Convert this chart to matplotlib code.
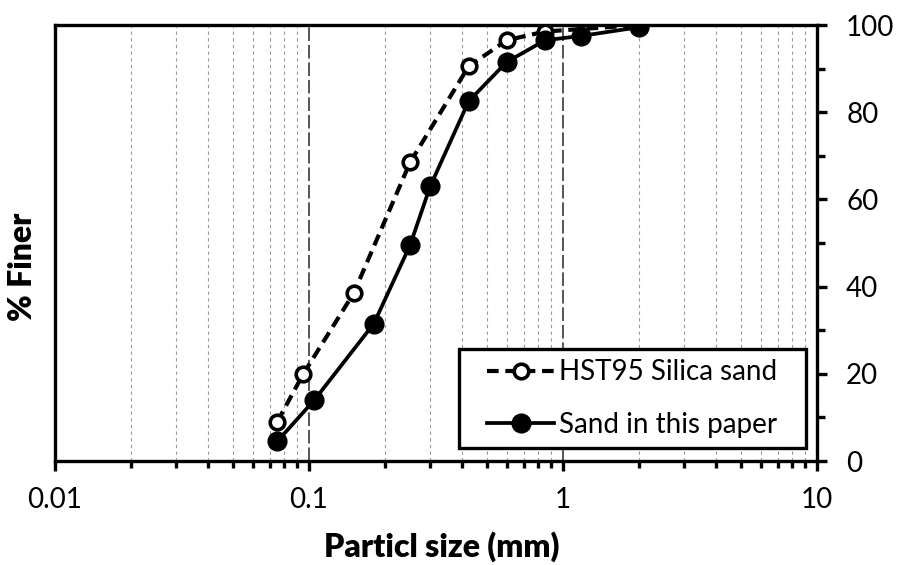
import numpy as np
import matplotlib
matplotlib.use('Agg')
import matplotlib.pyplot as plt
from matplotlib.patches import Rectangle
from matplotlib.ticker import LogLocator, FixedLocator, NullFormatter, FuncFormatter


# data
hst_size = [0.075, 0.095, 0.15, 0.25, 0.425, 0.6, 0.85, 2.0]
hst_finer = [9, 20, 38.5, 68.5, 90.5, 96.5, 98.5, 100]

sand_size = [0.075, 0.105, 0.18, 0.25, 0.3, 0.425, 0.6, 0.85, 1.18, 2.0]
sand_finer = [4.5, 14, 31.5, 49.5, 63, 82.5, 91.5, 96.5, 97.5, 99.5]

x_ticks = [0.01, 0.1, 1, 10]
x_tick_labels = ['0.01', '0.1', '1', '10']
y_ticks = [0, 20, 40, 60, 80, 100]

plt.rcParams['font.family'] = ['Lato', 'DejaVu Sans']

# figure
fig = plt.figure(figsize=(8.98, 5.65), dpi=100)
ax = fig.add_axes([55 / 898, 1 - 461 / 565, 762 / 898, 436 / 565])

ax.set_xscale('log')
ax.set_xlim(0.01, 10)
ax.set_ylim(0, 100)

# vertical grid: dotted minors, dashed majors
for dec in [0.01, 0.1, 1]:
    for m in range(2, 10):
        ax.axvline(dec * m, color='#9a9a9a', lw=0.8, ls=(0, (3, 3)), zorder=0)
for xm in [0.1, 1]:
    ax.axvline(xm, color='#555555', lw=1.4, ls=(0, (7, 2)), zorder=0)

# series
ax.plot(hst_size, hst_finer, color='black', lw=3, dashes=(2.8, 1.6),
        marker='o', ms=10.5, mew=2.6, mfc='white', mec='black',
        label='HST95 Silica sand', zorder=3)
ax.plot(sand_size, sand_finer, color='black', lw=2.7,
        marker='o', ms=13.5, mew=1, mfc='black', mec='black',
        label='Sand in this paper', zorder=4)

# spines & ticks
for s in ax.spines.values():
    s.set_linewidth(2.4)

ax.xaxis.set_major_locator(FixedLocator(x_ticks))
ax.xaxis.set_major_formatter(FuncFormatter(lambda v, p: x_tick_labels[x_ticks.index(v)] if v in x_ticks else ''))
ax.xaxis.set_minor_locator(LogLocator(base=10, subs=np.arange(2, 10)))
ax.xaxis.set_minor_formatter(NullFormatter())

ax.yaxis.tick_right()
ax.yaxis.set_label_position('left')
ax.set_yticks(y_ticks)
ax.yaxis.set_minor_locator(FixedLocator(range(10, 100, 20)))

ax.tick_params(axis='x', which='major', direction='out', length=7, width=2.4,
               labelsize=20, pad=12)
ax.tick_params(axis='x', which='minor', direction='out', length=5, width=2.4)
ax.tick_params(axis='y', which='major', direction='out', length=7, width=2.4,
               labelsize=20, pad=14, right=True, left=False)
ax.tick_params(axis='y', which='minor', direction='out', length=6, width=2.4,
               right=True, left=False)

# labels
ax.set_xlabel('Particl size (mm)', fontsize=23, fontweight='heavy', va='center')
ax.xaxis.set_label_coords(0.508, -0.197)
ax.set_ylabel('% Finer', fontsize=23, fontweight='heavy', va='center')
ax.yaxis.set_label_coords(-0.043, 0.445)

# legend, with its frame drawn as a box of its own
lx0, lx1, ly0, ly1 = 0.530, 0.9856, 0.030, 0.257
ax.add_patch(Rectangle((lx0, ly0), lx1 - lx0, ly1 - ly0, transform=ax.transAxes,
                       facecolor='white', edgecolor='black', lw=2.4, zorder=5))
leg = ax.legend(loc='center', bbox_to_anchor=((lx0 + lx1) / 2, (ly0 + ly1) / 2),
                borderaxespad=0, fontsize=20, handlelength=2.4,
                handletextpad=0.2, labelspacing=0.95, borderpad=0,
                frameon=False)
leg.set_zorder(6)

fig.savefig('out.png', dpi=100)
